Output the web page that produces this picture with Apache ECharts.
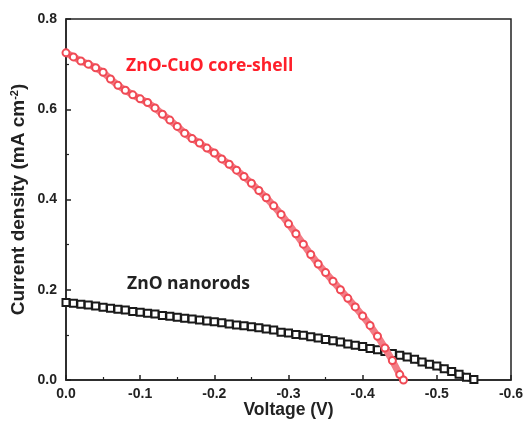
<!DOCTYPE html>
<html>
<head>
<meta charset="utf-8">
<script src="https://cdn.jsdelivr.net/npm/echarts@6/dist/echarts.min.js"></script>
<style>
  html, body { margin: 0; padding: 0; background: #fff; }
  #chart { width: 524px; height: 421px; }
</style>
</head>
<body>
<div id="chart"></div>
<script>
// 电压 (V) 与电流密度 (mA cm^-2)
var coreShellV = [0, -0.01, -0.02, -0.03, -0.04, -0.05, -0.06, -0.07, -0.08, -0.09,
  -0.10, -0.11, -0.12, -0.13, -0.14, -0.15, -0.16, -0.17, -0.18, -0.19,
  -0.20, -0.21, -0.22, -0.23, -0.24, -0.25, -0.26, -0.27, -0.28, -0.29,
  -0.30, -0.31, -0.32, -0.33, -0.34, -0.35, -0.36, -0.37, -0.38, -0.39,
  -0.40, -0.41, -0.42, -0.43, -0.44, -0.45, -0.455];
var coreShellJ = [0.725, 0.716, 0.707, 0.700, 0.692, 0.682, 0.667, 0.653, 0.642, 0.632,
  0.623, 0.615, 0.603, 0.589, 0.576, 0.562, 0.547, 0.535, 0.525, 0.514,
  0.503, 0.490, 0.478, 0.465, 0.451, 0.436, 0.420, 0.404, 0.386, 0.367,
  0.346, 0.324, 0.301, 0.278, 0.257, 0.238, 0.219, 0.200, 0.181, 0.162,
  0.142, 0.121, 0.097, 0.071, 0.043, 0.012, 0.0];

var nanorodV = [0, -0.01, -0.02, -0.03, -0.04, -0.05, -0.06, -0.07, -0.08, -0.09,
  -0.10, -0.11, -0.12, -0.13, -0.14, -0.15, -0.16, -0.17, -0.18, -0.19,
  -0.20, -0.21, -0.22, -0.23, -0.24, -0.25, -0.26, -0.27, -0.28, -0.29,
  -0.30, -0.31, -0.32, -0.33, -0.34, -0.35, -0.36, -0.37, -0.38, -0.39,
  -0.40, -0.41, -0.42, -0.43, -0.44, -0.45, -0.46, -0.47, -0.48, -0.49,
  -0.50, -0.51, -0.52, -0.53, -0.54, -0.55];
var nanorodJ = [0.172, 0.170, 0.168, 0.166, 0.164, 0.161, 0.159, 0.157, 0.155, 0.152,
  0.150, 0.148, 0.146, 0.143, 0.141, 0.139, 0.137, 0.135, 0.133, 0.131,
  0.129, 0.127, 0.124, 0.122, 0.120, 0.118, 0.116, 0.113, 0.111, 0.106,
  0.104, 0.101, 0.099, 0.096, 0.093, 0.090, 0.087, 0.084, 0.080, 0.077,
  0.074, 0.070, 0.067, 0.063, 0.059, 0.055, 0.051, 0.046, 0.040, 0.035,
  0.031, 0.025, 0.019, 0.013, 0.006, 0.001];

var seriesNames = ["ZnO-CuO core-shell", "ZnO nanorods"];

function pairs(xs, ys) {
  var out = [];
  for (var i = 0; i < xs.length; i++) out.push([xs[i], ys[i]]);
  return out;
}

var chart = echarts.init(document.getElementById("chart"));
var font = "Liberation Sans";
var option = {
  animation: false,
  grid: {
    left: 66, right: 13, top: 19, bottom: 41,
    outerBoundsMode: "none",
    show: true, borderColor: "#222", borderWidth: 1.5
  },
  xAxis: {
    type: "value",
    inverse: true,
    min: -0.6, max: 0, interval: 0.1,
    name: "Voltage (V)",
    nameLocation: "middle",
    nameGap: 21,
    nameMoveOverlap: false,
    nameTextStyle: { fontFamily: font, fontWeight: "bold", fontSize: 17.5, color: "#222" },
    axisLine: { lineStyle: { color: "#222", width: 1.5 } },
    axisTick: { inside: true, length: 5, lineStyle: { color: "#222", width: 1.5 } },
    minorTick: { show: true, splitNumber: 2, length: 3, lineStyle: { color: "#222", width: 1.2 } },
    splitLine: { show: false },
    axisLabel: {
      fontFamily: font, fontWeight: "bold", fontSize: 14, color: "#222", margin: 7,
      formatter: function (v) { return v.toFixed(1); }
    }
  },
  yAxis: {
    type: "value",
    min: 0, max: 0.8, interval: 0.2,
    name: "{a|Current density (mA cm}{s|-2}{a|)}",
    nameLocation: "middle",
    nameGap: 38,
    nameMoveOverlap: false,
    nameTextStyle: {
      rich: {
        a: { fontFamily: font, fontWeight: "bold", fontSize: 19, color: "#222" },
        s: { fontFamily: font, fontWeight: "bold", fontSize: 11, color: "#222", verticalAlign: "top", lineHeight: 13 }
      }
    },
    axisLine: { lineStyle: { color: "#222", width: 1.5 } },
    axisTick: { inside: true, length: 5, lineStyle: { color: "#222", width: 1.5 } },
    minorTick: { show: true, splitNumber: 2, length: 3, lineStyle: { color: "#222", width: 1.2 } },
    splitLine: { show: false },
    axisLabel: {
      fontFamily: font, fontWeight: "bold", fontSize: 14, color: "#222", margin: 9,
      formatter: function (v) { return v.toFixed(1); }
    }
  },
  graphic: [
    { type: "text", left: 126, top: 57, style: { text: seriesNames[0], fill: "#ff1f2a", font: "bold 17.5px 'Open Sans'" } },
    { type: "text", left: 127, top: 275, style: { text: seriesNames[1], fill: "#222", font: "bold 17.5px 'Open Sans'" } }
  ],
  series: [
    {
      name: seriesNames[0],
      type: "line",
      data: pairs(coreShellV, coreShellJ),
      symbol: "emptyCircle",
      symbolSize: 7,
      itemStyle: { color: "#f04a55", borderWidth: 1.5 },
      lineStyle: { color: "#f37d86", width: 7 },
      z: 3
    },
    {
      name: seriesNames[1],
      type: "line",
      data: pairs(nanorodV, nanorodJ),
      symbol: "emptyRect",
      symbolSize: 7,
      itemStyle: { color: "#1a1a1a", borderWidth: 1.5 },
      lineStyle: { color: "#555", width: 7 },
      z: 2
    }
  ]
};
chart.setOption(option);
</script>
</body>
</html>
